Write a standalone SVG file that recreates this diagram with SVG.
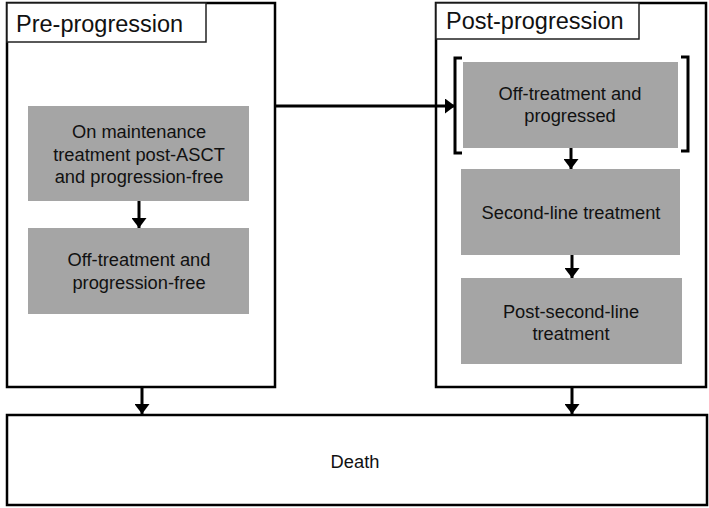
<svg xmlns="http://www.w3.org/2000/svg" width="709" height="508" viewBox="0 0 709 508">
<style>
.frame{fill:#fff;stroke:#000;stroke-width:2.5}
.lab{fill:#fff;stroke:#222;stroke-width:1.5}
.box{fill:#a5a5a5;stroke:none}
.t{font-family:"Liberation Sans",Arial,sans-serif;font-size:18.3px;fill:#111;text-anchor:middle}
.h{font-family:"Liberation Sans",Arial,sans-serif;font-size:23.5px;fill:#111}
.c{stroke:#000;stroke-width:3;fill:none}
.br{stroke:#000;stroke-width:3;fill:none}
</style>
<defs>
<marker id="ah" viewBox="0 0 10 15" refX="10" refY="7.5" markerWidth="3.4" markerHeight="5" orient="auto" markerUnits="strokeWidth">
<path d="M0,0 L10,7.5 L0,15 Z" fill="#000"/>
</marker>
</defs>
<g id="pre">
<rect class="frame" x="7" y="3" width="268" height="384"/>
<rect class="lab" x="7" y="3" width="199" height="39"/>
<text class="h" x="16" y="32">Pre-progression</text>
</g>
<g id="post">
<rect class="frame" x="436" y="3" width="270" height="384"/>
<rect class="lab" x="436" y="3" width="203" height="36"/>
<text class="h" x="446" y="29">Post-progression</text>
</g>
<g id="n1">
<rect class="box" x="28" y="106" width="221" height="95"/>
<text class="t" x="139" y="138">On maintenance</text>
<text class="t" x="139" y="160.5">treatment post-ASCT</text>
<text class="t" x="139" y="183">and progression-free</text>
</g>
<g id="n2">
<rect class="box" x="28" y="228" width="221" height="86"/>
<text class="t" x="139" y="266">Off-treatment and</text>
<text class="t" x="139" y="289">progression-free</text>
</g>
<g id="n3">
<rect class="box" x="463" y="62" width="215" height="86"/>
<path class="br" d="M462,58 H455 V153 H462"/>
<path class="br" d="M681,57 H688 V151 H681"/>
<text class="t" x="570" y="100">Off-treatment and</text>
<text class="t" x="570" y="122">progressed</text>
</g>
<g id="n4">
<rect class="box" x="461" y="169" width="219" height="86"/>
<text class="t" x="571" y="219">Second-line treatment</text>
</g>
<g id="n5">
<rect class="box" x="461" y="278" width="221" height="86"/>
<text class="t" x="571" y="318">Post-second-line</text>
<text class="t" x="571" y="340">treatment</text>
</g>
<g id="death">
<rect class="frame" x="7" y="415" width="700" height="90"/>
<text class="t" x="355" y="468">Death</text>
</g>
<g id="connectors">
<line class="c" x1="275" y1="106" x2="455" y2="106" marker-end="url(#ah)"/>
<line class="c" x1="139" y1="201" x2="139" y2="228" marker-end="url(#ah)"/>
<line class="c" x1="571" y1="148" x2="571" y2="169" marker-end="url(#ah)"/>
<line class="c" x1="572" y1="255" x2="572" y2="278" marker-end="url(#ah)"/>
<line class="c" x1="142" y1="387" x2="142" y2="414" marker-end="url(#ah)"/>
<line class="c" x1="572" y1="387" x2="572" y2="414" marker-end="url(#ah)"/>
</g>
</svg>
